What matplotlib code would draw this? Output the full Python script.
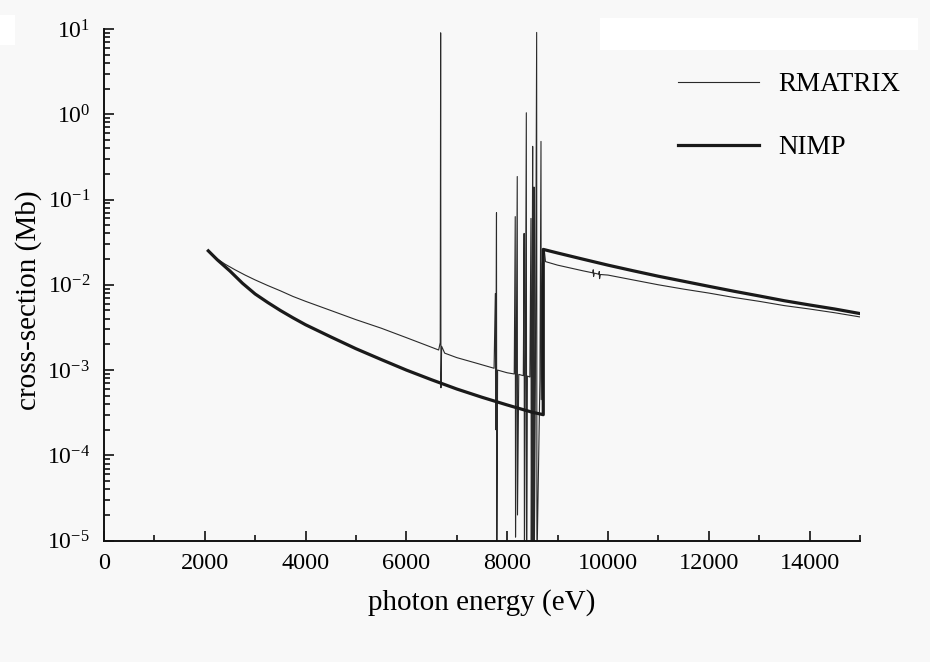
import matplotlib
matplotlib.use('Agg')
import matplotlib.pyplot as plt
from matplotlib.ticker import MultipleLocator, LogLocator, LogFormatterMathtext, NullFormatter
from matplotlib.patches import Rectangle

plt.rcParams['font.family'] = ['Liberation Serif', 'DejaVu Serif']
plt.rcParams['mathtext.fontset'] = 'stix'
plt.rcParams['axes.unicode_minus'] = False

# NIMP cross-section (thick curve)
nimp_energy = [2070, 2250, 2500, 2750, 3000, 3250, 3500, 3750, 4000, 4500, 5000, 5500,
               6000, 6500, 7000, 7500, 8000, 8500, 8716,
               8716, 9000, 9500, 10000, 10500, 11000, 11500, 12000, 12500,
               13000, 13500, 14000, 14500, 15000]
nimp_xs = [0.025, 0.0196, 0.0145, 0.0104, 0.0078, 0.0062, 0.0050, 0.0041, 0.0034, 0.00245, 0.00178, 0.00133,
           0.00100, 0.00077, 0.00060, 0.00048, 0.00039, 0.00032, 0.00030,
           0.026, 0.0236, 0.0200, 0.0170, 0.0146, 0.0126, 0.0110, 0.0096, 0.0084,
           0.0074, 0.0065, 0.0058, 0.0052, 0.0046]

# RMATRIX cross-section (thin curve) with its resonances
rmatrix_energy = [2070, 2150, 2250, 2400, 2600, 2800, 3000, 3250, 3500, 3750, 4000, 4500,
                  5000, 5500, 6000, 6400, 6640,
                  6672, 6680, 6686, 6700, 6760, 7000, 7400, 7740,
                  7765, 7772, 7788, 7794, 7810, 8000, 8140,
                  8160, 8166, 8180, 8200, 8205, 8230, 8320,
                  8336, 8342, 8360, 8380, 8386, 8400, 8450,
                  8472, 8478, 8490, 8506, 8512, 8525, 8532, 8538, 8560,
                  8585, 8590, 8650, 8671, 8676, 8700, 8735,
                  8760, 9000, 9500, 9700, 9708, 9714, 9730, 9820, 9827, 9833, 9850,
                  10000, 10500, 11000, 11500, 12000, 12500, 13000, 13500, 14000, 14500, 15000]
rmatrix_xs = [0.025, 0.0226, 0.0201, 0.0175, 0.0150, 0.0130, 0.0114, 0.0098, 0.0085, 0.0073, 0.0064, 0.0050,
              0.0039, 0.0031, 0.0024, 0.00195, 0.00172,
              0.0021, 9.0, 0.00062, 0.0019, 0.00158, 0.00140, 0.00120, 0.00105,
              0.0079, 0.0002, 0.07, 5e-6, 0.00100, 0.00093, 0.00090,
              0.063, 1.1e-5, 0.00089, 0.186, 2e-5, 0.00089, 0.00086,
              0.04, 5e-6, 0.00086, 1.04, 5e-6, 0.00085, 0.00083,
              0.06, 5e-6, 0.00082, 0.42, 5e-6, 0.00081, 0.14, 5e-6, 0.00080,
              9.1, 5e-6, 0.00076, 0.48, 0.00045, 0.018, 0.026,
              0.0187, 0.0170, 0.0146, 0.0138, 0.0150, 0.0125, 0.0137, 0.0133, 0.0143, 0.0118, 0.0132,
              0.0130, 0.0114, 0.0100, 0.0089, 0.0080, 0.0071, 0.0064, 0.0057, 0.0052, 0.0047, 0.0042]

x_major = [0, 2000, 4000, 6000, 8000, 10000, 12000, 14000]

fig = plt.figure(figsize=(9.3, 6.62), dpi=100, facecolor='#f8f8f8')
fig.patches.append(Rectangle((600/930, 1-50/662), 318/930, 32/662, transform=fig.transFigure,
                             facecolor='white', edgecolor='none', zorder=0))
fig.patches.append(Rectangle((0, 1-45/662), 15/930, 30/662, transform=fig.transFigure,
                             facecolor='white', edgecolor='none', zorder=0))

ax = fig.add_axes([0.1118, 0.1833, 0.8129, 0.7730])
ax.set_facecolor('none')

ax.plot(rmatrix_energy, rmatrix_xs, color='#2a2a2a', lw=0.8, label='RMATRIX')
ax.plot(nimp_energy, nimp_xs, color='#1a1a1a', lw=2.3, label='NIMP')

ax.set_yscale('log')
ax.set_xlim(0, 15000)
ax.set_ylim(1e-5, 1e1)

for s in ['top', 'right']:
    ax.spines[s].set_visible(False)
for s in ['left', 'bottom']:
    ax.spines[s].set_linewidth(1.4)
    ax.spines[s].set_color('#111111')

ax.set_xticks(x_major)
ax.xaxis.set_minor_locator(MultipleLocator(1000))
ax.yaxis.set_major_locator(LogLocator(base=10, numticks=10))
ax.yaxis.set_major_formatter(LogFormatterMathtext())
ax.yaxis.set_minor_locator(LogLocator(base=10, subs=range(2, 10), numticks=20))
ax.yaxis.set_minor_formatter(NullFormatter())
ax.tick_params(which='both', direction='in', color='#111111', width=1.2)
ax.tick_params(which='major', length=7)
ax.tick_params(which='minor', length=4)
ax.tick_params(axis='x', which='major', pad=9, labelsize=17.5)
ax.tick_params(axis='y', which='major', pad=10, labelsize=17)

ax.set_xlabel('photon energy (eV)', fontsize=21, labelpad=11)
ax.set_ylabel('cross-section (Mb)', fontsize=21)
ax.yaxis.set_label_coords(-0.082, 0.47)

ax.legend(loc='upper left', bbox_to_anchor=(678/930, 1-72/662), bbox_transform=fig.transFigure,
          frameon=False, fontsize=19.5, handlelength=3.0, handletextpad=0.7,
          labelspacing=1.42, borderpad=0, borderaxespad=0)

fig.savefig('out.png', dpi=100, facecolor=fig.get_facecolor())
